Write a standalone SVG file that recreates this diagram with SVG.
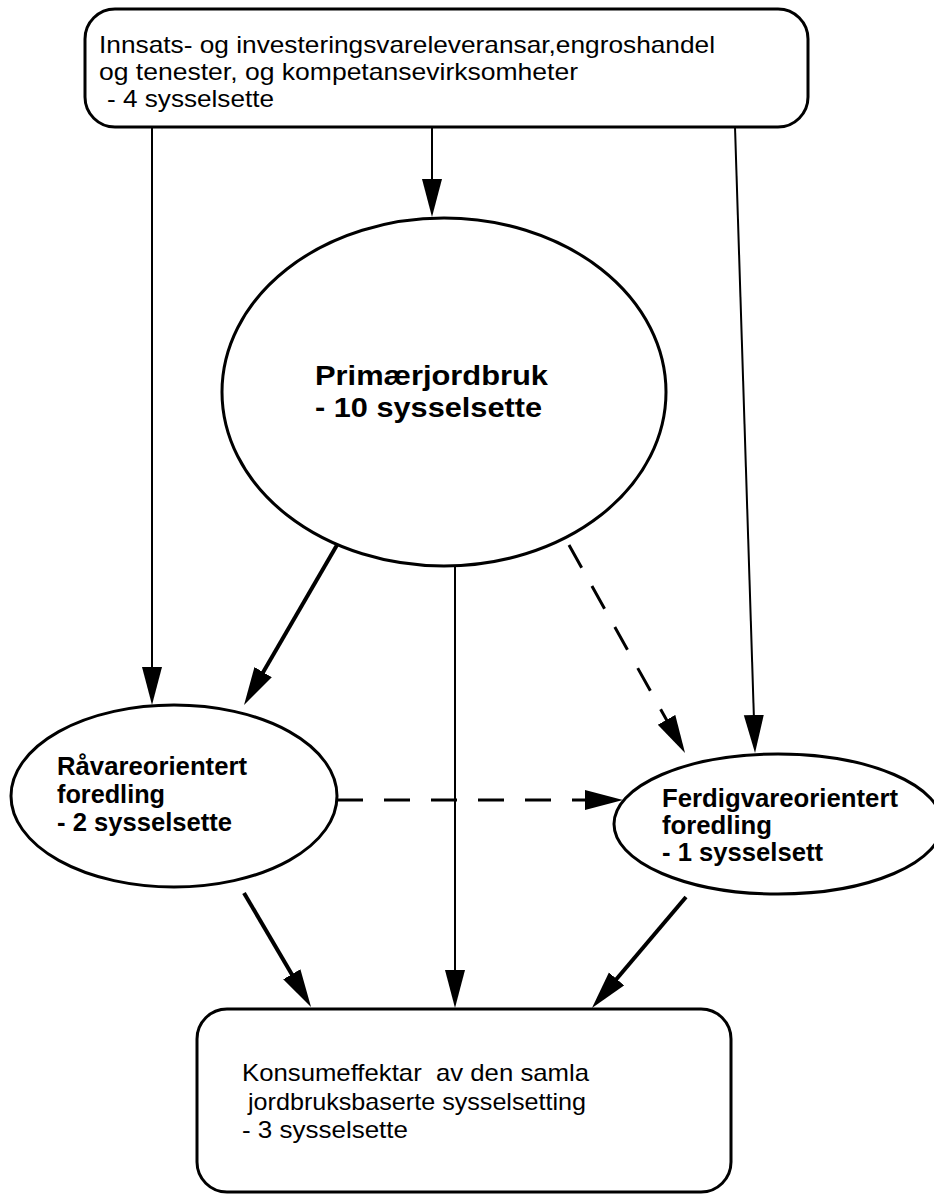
<svg xmlns="http://www.w3.org/2000/svg" width="934" height="1194" viewBox="0 0 934 1194">
<style>
.shape{fill:#fff;stroke:#000;stroke-width:3}
.t{font-family:"Liberation Sans",Arial,sans-serif;font-size:24px;fill:#000}
.b{font-family:"Liberation Sans",Arial,sans-serif;font-weight:bold;fill:#000}
.thin{stroke:#000;stroke-width:2;fill:none}
.thick{stroke:#000;stroke-width:4;fill:none}
.dash{stroke:#000;stroke-width:3;fill:none;stroke-dasharray:26 21}
</style>
<defs>
<marker id="ah" markerUnits="userSpaceOnUse" markerWidth="40" markerHeight="22" refX="18" refY="10" orient="auto">
<path d="M0,0 L38,10 L0,20 Z" fill="#000"/>
</marker>
</defs>
<rect x="0" y="0" width="934" height="1194" fill="#fff"/>
<g id="connectors">
<line class="thin" x1="152" y1="127" x2="152" y2="685" marker-end="url(#ah)"/>
<line class="thin" x1="432" y1="127" x2="432" y2="197" marker-end="url(#ah)"/>
<line class="thin" x1="735" y1="127" x2="754.4" y2="733" marker-end="url(#ah)"/>
<line class="thick" x1="337" y1="545" x2="254.1" y2="687.7" marker-end="url(#ah)"/>
<line class="thin" x1="455" y1="567" x2="455" y2="988" marker-end="url(#ah)"/>
<line class="dash" x1="569" y1="545" x2="675.3" y2="735.5" marker-end="url(#ah)"/>
<line class="dash" x1="337" y1="800" x2="603" y2="800" marker-end="url(#ah)"/>
<line class="thick" x1="244" y1="893" x2="300.9" y2="989.8" marker-end="url(#ah)"/>
<line class="thick" x1="686" y1="897" x2="604.9" y2="992.7" marker-end="url(#ah)"/>
</g>
<g id="top">
<rect class="shape" x="85" y="9" width="723" height="118" rx="30" ry="30"/>
<text class="t" x="99" y="53" textLength="616" lengthAdjust="spacingAndGlyphs">Innsats- og investeringsvareleveransar,engroshandel</text>
<text class="t" x="99" y="80" textLength="479" lengthAdjust="spacingAndGlyphs">og tenester, og kompetansevirksomheter</text>
<text class="t" x="107" y="107" textLength="167" lengthAdjust="spacingAndGlyphs">- 4 sysselsette</text>
</g>
<g id="primaer">
<ellipse class="shape" cx="444" cy="392" rx="222" ry="174"/>
<text class="b" font-size="28" x="315" y="385" textLength="233" lengthAdjust="spacingAndGlyphs">Primærjordbruk</text>
<text class="b" font-size="28" x="315" y="417" textLength="227" lengthAdjust="spacingAndGlyphs">- 10 sysselsette</text>
</g>
<g id="ravare">
<ellipse class="shape" cx="174" cy="796" rx="163" ry="91"/>
<text class="b" font-size="25" x="57" y="775" textLength="190" lengthAdjust="spacingAndGlyphs">Råvareorientert</text>
<text class="b" font-size="25" x="57" y="803" textLength="108" lengthAdjust="spacingAndGlyphs">foredling</text>
<text class="b" font-size="25" x="57" y="831" textLength="175" lengthAdjust="spacingAndGlyphs">- 2 sysselsette</text>
</g>
<g id="ferdig">
<ellipse class="shape" cx="778" cy="824" rx="164" ry="70"/>
<text class="b" font-size="25" x="662" y="807" textLength="236" lengthAdjust="spacingAndGlyphs">Ferdigvareorientert</text>
<text class="b" font-size="25" x="662" y="834" textLength="110" lengthAdjust="spacingAndGlyphs">foredling</text>
<text class="b" font-size="25" x="662" y="861" textLength="161" lengthAdjust="spacingAndGlyphs">- 1 sysselsett</text>
</g>
<g id="konsum">
<rect class="shape" x="197" y="1009" width="534" height="183" rx="30" ry="30"/>
<text class="t" x="242" y="1081" xml:space="preserve" textLength="347" lengthAdjust="spacingAndGlyphs">Konsumeffektar  av den samla</text>
<text class="t" x="248" y="1110" textLength="338" lengthAdjust="spacingAndGlyphs">jordbruksbaserte sysselsetting</text>
<text class="t" x="242" y="1138" textLength="166" lengthAdjust="spacingAndGlyphs">- 3 sysselsette</text>
</g>
</svg>
